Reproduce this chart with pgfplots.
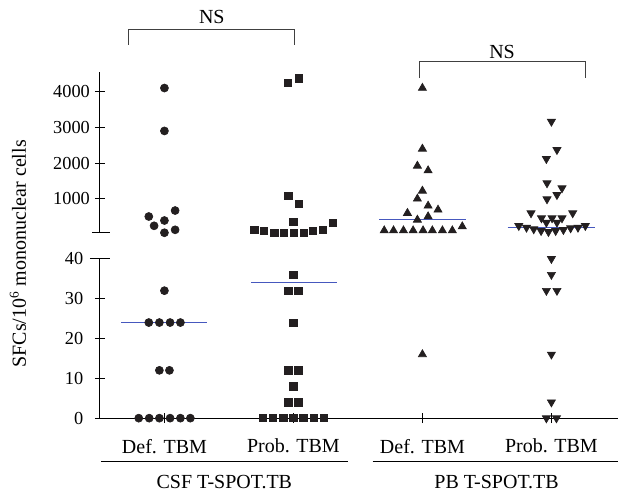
\documentclass[border=0pt]{standalone}
\usepackage{pgfplots}
\pgfplotsset{compat=1.18}
\usepackage{fontspec}
\setmainfont{Liberation Serif}

\definecolor{dot}{RGB}{35,31,32}
\definecolor{med}{RGB}{70,88,190}

\pgfplotsset{
  base/.style={
    scale only axis, width=311.4pt,
    xmin=0.5, xmax=4.52,
    clip=false,
    every tick/.style={black, line width=0.6pt},
    major tick length=6pt,
    tick align=outside,
    /pgf/number format/assume math mode=true,
    /pgf/number format/1000 sep={},
    yticklabel style={font=\fontsize{11}{13}\selectfont},
    xticklabel style={font=\fontsize{12}{14}\selectfont, yshift=-6pt},
  },
  noarrow/.style={
    axis line style={-, line width=0.6pt},
    x axis line style={-}, y axis line style={-},
  },
  circ/.style={only marks, color=dot, mark=*, mark size=2.4pt},
  sq/.style={only marks, color=dot, mark=square*, mark size=2.2pt},
  tri/.style={only marks, color=dot, mark=triangle*, mark size=2.8pt},
  trid/.style={only marks, color=dot, mark=triangle*, mark size=2.8pt,
    every mark/.append style={rotate=180}},
  medline/.style={no marks, color=med, line width=0.7pt},
}

\begin{document}
\begin{tikzpicture}
\begin{scope}[x=0.6pt, y=-0.6pt, shift={(-60pt,251.1pt)}]
  \path[use as bounding box] (0,0) rectangle (619,494);
\end{scope}

% lower segment 0-40
\begin{axis}[base, at={(0pt,0pt)}, anchor=south west,
  height=95.7pt, ymin=0, ymax=40,
  axis x line=bottom, axis y line=left, noarrow,
  ytick={0,10,20,30,40},
  yticklabel style={xshift=-3.5pt},
  xtick={1,2,3,4},
  xticklabels={Def. TBM, Prob. TBM, Def. TBM, Prob. TBM},
]
\addplot[medline] coordinates {(0.667,24) (1.333,24)};
\addplot[medline] coordinates {(1.673,34) (2.338,34)};
\addplot[circ] coordinates {
  (1,32) (0.879,24) (0.961,24) (1.044,24) (1.124,24) (0.961,12) (1.039,12)
  (0.801,0) (0.882,0) (0.961,0) (1.044,0) (1.124,0) (1.201,0)};
\addplot[sq] coordinates {
  (2,36) (1.961,32) (2.039,32) (2,24) (1.961,12) (2.039,12) (2,8)
  (1.961,4) (2.039,4)
  (1.762,0) (1.838,0) (1.923,0) (2,0) (2.077,0) (2.160,0) (2.237,0)};
\addplot[tri] coordinates {(3,16)};
\addplot[trid] coordinates {
  (4,40) (4,36) (3.961,32) (4.043,32) (4,16) (4,4) (3.961,0) (4.039,0)};
\end{axis}

% upper segment 50-4550
\begin{axis}[base, at={(0pt,111.3pt)}, anchor=south west,
  height=96.6pt, ymin=50, ymax=4550,
  axis x line=none, axis y line=left, noarrow,
  xtick=\empty,
  ytick={1000,2000,3000,4000},
  yticklabel style={xshift=0.5pt},
]
\addplot[medline] coordinates {(2.665,413) (3.338,413)};
\addplot[medline] coordinates {(3.66,190) (4.34,190)};
\addplot[circ] coordinates {
  (1,4100) (1,2900) (0.879,506) (1.083,673) (1,394) (0.920,246)
  (1,52) (1.083,134)};
\addplot[sq] coordinates {
  (1.959,4252) (2.044,4375) (1.961,1085) (2.044,861) (2,358)
  (1.696,134) (1.773,98) (1.851,58) (1.928,50) (2.005,50) (2.083,58)
  (2.152,98) (2.230,134) (2.307,321)};
\addplot[tri] coordinates {
  (3,4100) (3,2399) (2.961,1923) (3.044,1792) (3,1224) (2.961,1001)
  (3.044,805) (3.121,693) (2.884,601) (2.961,413) (3.044,506)
  (2.704,114) (2.776,114) (2.853,114) (2.928,114) (3.005,114)
  (3.077,114) (3.155,114) (3.232,114) (3.309,226)};
\addplot[trid] coordinates {
  (4,3162) (4.043,2371) (3.961,2119) (3.966,1440) (4.082,1300)
  (4.043,1112) (3.966,992) (3.842,601) (4.165,601) (3.923,461)
  (4.005,461) (4.082,461) (3.961,338) (4.043,338)
  (3.747,246) (3.807,198) (3.863,153) (3.920,106) (3.977,78)
  (4.033,106) (4.093,134) (4.149,181) (4.206,198) (4.263,246)};
\end{axis}

\begin{scope}[x=0.6pt, y=-0.6pt, shift={(-60pt,251.1pt)},
  font=\fontsize{12}{14}\selectfont]
  % break ticks
  \draw[line width=0.6pt] (90,259)--(110,259);
  \draw[line width=0.6pt] (92,233)--(110,233);
  % group underlines
  \draw[line width=0.6pt] (101,462)--(348,462);
  \draw[line width=0.6pt] (373,462)--(619,462);
  \node at (224.5,482) {CSF T-SPOT.TB};
  \node at (497,482) {PB T-SPOT.TB};
  % NS brackets
  \draw[line width=0.6pt, black!75] (128.7,45)--(128.7,30)--(294.3,30)--(294.3,45);
  \node at (212,16.7) {NS};
  \draw[line width=0.6pt, black!75] (420,78.3)--(420,61.7)--(585.7,61.7)--(585.7,78.3);
  \node at (502.5,51.7) {NS};
  % y label
  \node[rotate=90] at (18,254) {SFCs/10\textsuperscript{6} mononuclear cells};
\end{scope}
\end{tikzpicture}
\end{document}
